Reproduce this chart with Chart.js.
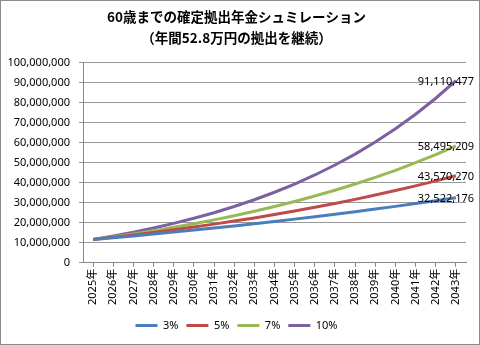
<!DOCTYPE html>
<html>
<head>
<meta charset="utf-8">
<script src="https://cdn.jsdelivr.net/npm/chart.js@4"></script>
<style>
    html, body { margin: 0; padding: 0; background: #fff; }
    #wrap { width: 480px; height: 345px; box-sizing: border-box; border: 1px solid #8c8c8c; }
    #chartDc { display: block; }
</style>
</head>
<body>
<div id="wrap"><canvas id="chartDc" width="478" height="343"></canvas></div>
<script>
    // 年
    var years = ["2025年","2026年","2027年","2028年","2029年","2030年","2031年","2032年","2033年","2034年",
                 "2035年","2036年","2037年","2038年","2039年","2040年","2041年","2042年","2043年"];

    // 利回り別の資産残高
    var rate3 = [11624000,12517000,13436000,14383000,15358000,16363000,17397000,18463000,19561000,20692000,
                 21856000,23056000,24291000,25564000,26875000,28225000,29615000,31048000,32522176];
    var rate5 = [11624000,12760000,13952000,15204000,16519000,17899000,19348000,20870000,22468000,24146000,
                 25907000,27757000,29699000,31739000,33880000,36129000,38489000,40968000,43570270];
    var rate7 = [11624000,13003000,14478000,16056000,17745000,19552000,21486000,23555000,25769000,28137000,
                 30672000,33384000,36286000,39391000,42713000,46268000,50072000,54142000,58495209];
    var rate10 = [11624000,13367000,15285000,17394000,19714000,22266000,25074000,28162000,31559000,35296000,
                  39406000,43928000,48901000,54372000,60390000,67010000,74292000,82302000,91110477];

    var seriesNames = ["3%", "5%", "7%", "10%"];
    var seriesColors = ["#4a7ebb", "#be4b48", "#98b954", "#7d60a0"];

    var yTicks = { min: 0, max: 100000000, step: 10000000 };

    var baseFont = "'Noto Sans', 'Noto Sans CJK JP', sans-serif";

    function numFmt(v) {
        return Number(v).toLocaleString("en-US");
    }

    // 最終年の値を線の右端に表示
    var endLabels = {
        id: "endLabels",
        afterDatasetsDraw: function(chart) {
            var ctx = chart.ctx;
            ctx.save();
            ctx.font = "11px " + baseFont;
            ctx.fillStyle = "#000";
            ctx.textAlign = "center";
            ctx.textBaseline = "middle";
            chart.data.datasets.forEach(function(ds, i) {
                var meta = chart.getDatasetMeta(i);
                var last = meta.data[meta.data.length - 1];
                ctx.fillText(numFmt(ds.data[ds.data.length - 1]), last.x - 10, last.y + 1);
            });
            ctx.restore();
        }
    };

    function makeDataset(idx, values) {
        return {
            label: seriesNames[idx],
            data: values,
            borderColor: seriesColors[idx],
            backgroundColor: seriesColors[idx],
            borderWidth: 3,
            pointRadius: 0,
            pointHoverRadius: 0,
            tension: 0,
            fill: false
        };
    }

    var ctx = document.getElementById("chartDc").getContext("2d");

    new Chart(ctx, {
        type: "line",
        data: {
            labels: years,
            datasets: [
                makeDataset(0, rate3),
                makeDataset(1, rate5),
                makeDataset(2, rate7),
                makeDataset(3, rate10)
            ]
        },
        plugins: [endLabels],
        options: {
            responsive: false,
            animation: false,
            layout: { padding: { left: 6, right: 13, top: 0, bottom: 3 } },
            plugins: {
                title: {
                    display: true,
                    text: ["60歳までの確定拠出年金シュミレーション", "（年間52.8万円の拠出を継続）"],
                    color: "#000",
                    font: { family: "'Noto Sans CJK JP', sans-serif", size: 13.5, weight: "bold", lineHeight: 1.55 },
                    padding: { top: 5, bottom: 15 }
                },
                legend: {
                    position: "bottom",
                    labels: {
                        usePointStyle: true,
                        pointStyle: "line",
                        pointStyleWidth: 22,
                        boxHeight: 11,
                        color: "#000",
                        padding: 8,
                        font: { family: baseFont, size: 11 }
                    }
                },
                tooltip: { enabled: false }
            },
            scales: {
                x: {
                    offset: true,
                    afterFit: function(scale) { scale.height += 5; },
                    grid: {
                        display: true,
                        drawOnChartArea: false,
                        drawTicks: true,
                        tickLength: 4,
                        color: "#888"
                    },
                    border: { color: "#888", width: 1 },
                    ticks: {
                        autoSkip: false,
                        maxRotation: 90,
                        minRotation: 90,
                        padding: 2,
                        color: "#000",
                        font: { family: baseFont, size: 11 }
                    }
                },
                y: {
                    min: yTicks.min,
                    max: yTicks.max,
                    afterFit: function(scale) { scale.width = 76; },
                    grid: {
                        color: "#999",
                        tickLength: 4
                    },
                    border: { color: "#888", width: 1 },
                    ticks: {
                        stepSize: yTicks.step,
                        padding: 9,
                        color: "#000",
                        font: { family: baseFont, size: 11 },
                        callback: function(v) { return numFmt(v); }
                    }
                }
            }
        }
    });
</script>
</body>
</html>
